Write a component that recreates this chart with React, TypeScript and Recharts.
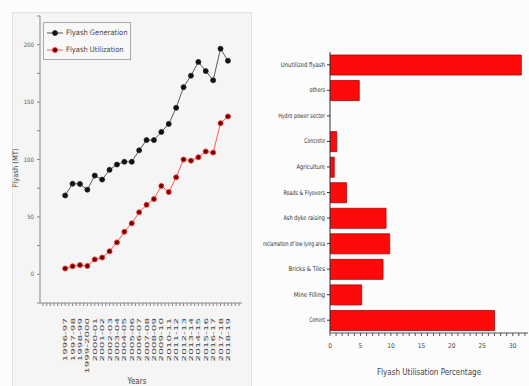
import React from 'react';
import { LineChart, Line, XAxis, YAxis, BarChart, Bar } from 'recharts';

const years = ['1996-97','1997-98','1998-99','1999-2000','2000-01','2001-02','2002-03','2003-04','2004-05','2005-06','2006-07','2007-08','2008-09','2009-10','2010-11','2011-12','2012-13','2013-14','2014-15','2015-16','2016-17','2017-18','2018-19'];
const generation = [68.7,78.9,78.7,73.7,86,82.5,91,95.6,98,98,108,116.9,116.9,124,131,145,163,173,185,177,169,196.5,186];
const utilization = [5,7,8,7.3,13,14.6,20,27.8,37,44.4,54,60.5,65.5,77,71.6,84.5,100,99,102,107,106,131.6,137.5];
const yTicks = [-25,0,25,50,75,100,125,150,175,200,225];

const sectors = ['Unutilized flyash','others','Hydro power sector','Concrete','Agriculture','Roads & Flyovers','Ash dyke raising','reclamation of low lying area','Bricks & Tiles','Mine Filling','Cement'];
const percentages = [31.4,4.8,0,1.1,0.7,2.7,9.2,9.8,8.7,5.2,27];
const pctTicks = [0,1,2,3,4,5,6,7,8,9,10,11,12,13,14,15,16,17,18,19,20,21,22,23,24,25,26,27,28,29,30,31,32];

const FONT = "'Liberation Sans Narrow', 'DejaVu Sans Condensed', 'Roboto Condensed', sans-serif";

const lineData = years.map((y, i) => ({ x: i, year: y, gen: generation[i], util: utilization[i] }));
const barData = sectors.map((s, i) => ({ name: s, value: percentages[i] }));

const xTicks: number[] = [];
for (let v = -3; v <= 23.5; v += 0.5) xTicks.push(v);

const YearTick = (props: any) => {
  const { x, y, payload } = props;
  const v = payload.value;
  if (!Number.isInteger(v) || v < 0 || v >= years.length) return <g />;
  const label = years[v];
  return (
    <text
      transform={`translate(${x},${y + 10}) rotate(-90)`}
      textAnchor="end"
      dominantBaseline="central"
      fontSize={5.5}
      fontFamily={FONT}
      fill="#444"
      textLength={label.length * 6.2}
      lengthAdjust="spacingAndGlyphs"
    >
      {label}
    </text>
  );
};

const SectorTick = (props: any) => {
  const { x, y, payload } = props;
  const label = String(payload.value);
  return (
    <text
      x={x}
      y={y}
      textAnchor="end"
      dominantBaseline="central"
      fontSize={6.5}
      fontFamily={FONT}
      fill="#333"
      textLength={Math.min(label.length * 2.6, 62)}
      lengthAdjust="spacingAndGlyphs"
    >
      {label}
    </text>
  );
};

const YLabel = () => (
  <text transform="translate(15,168) rotate(-90)" textAnchor="middle" dominantBaseline="central" fontSize={7.5} fontFamily={FONT} fill="#444">
    Flyash (MT)
  </text>
);

const legendItems = [
  { c: '#222', f: '#111', t: 'Flyash Generation' },
  { c: '#ff3030', f: '#6a0000', t: 'Flyash Utilization' },
];

export default function App() {
  return (
    <div style={{ position: 'absolute', left: 0, top: 0, width: 529, height: 386, background: '#fcfcfc', overflow: 'hidden' }}>
      <div style={{ position: 'absolute', left: 12, top: 12, width: 238, height: 380, background: '#f5f5f5', border: '1px solid #e2e2e2' }} />
      <div style={{ position: 'absolute', left: 0, top: 0 }}>
        <LineChart width={250} height={386} data={lineData} margin={{ top: 16, right: 8, bottom: 0, left: 0 }}>
          <XAxis
            dataKey="x"
            type="number"
            domain={[-3.4, 23.9]}
            ticks={xTicks}
            allowDataOverflow
            interval={0}
            height={83}
            tick={<YearTick />}
            tickSize={3}
            stroke="#888"
            label={{ value: 'Years', position: 'insideBottom', offset: 2, dx: -4, fontSize: 8, fontFamily: FONT, fill: '#444' }}
          />
          <XAxis
            xAxisId="top"
            orientation="top"
            type="number"
            domain={[0, 10]}
            ticks={[0,1,2,3,4,5,6,7,8,9,10]}
            allowDataOverflow
            height={0}
            tickSize={-3}
            tickFormatter={() => ''}
            stroke="#888"
          />
          <YAxis
            type="number"
            domain={[-25, 225]}
            ticks={yTicks}
            allowDataOverflow
            width={40}
            tickSize={3}
            tickMargin={3}
            stroke="#888"
            tick={{ fontSize: 6, fontFamily: FONT, fill: '#555' }}
            tickFormatter={(v: number) => (v % 50 === 0 && v >= 0 && v <= 200 ? String(v) : '')}
            label={{ value: 'Flyash (MT)', content: <YLabel /> }}
          />
          <YAxis
            yAxisId="right"
            orientation="right"
            type="number"
            domain={[-25, 225]}
            ticks={yTicks}
            allowDataOverflow
            width={0}
            tickSize={-3}
            tickFormatter={() => ''}
            stroke="#999"
          />
          <Line
            dataKey="gen"
            stroke="#333"
            strokeWidth={0.8}
            dot={{ r: 2.5, fill: '#111', stroke: '#222', strokeWidth: 0.8 }}
            isAnimationActive={false}
          />
          <Line
            dataKey="util"
            stroke="#ff3030"
            strokeWidth={0.8}
            dot={{ r: 2.5, fill: '#6a0000', stroke: '#ff3030', strokeWidth: 0.9 }}
            isAnimationActive={false}
          />
        </LineChart>
      </div>
      <div style={{ position: 'absolute', left: 43, top: 22, border: '1px solid #aaa', background: '#f8f8f8', padding: '1px 3px', fontFamily: FONT, fontSize: 7.5, color: '#444', lineHeight: '17px', whiteSpace: 'nowrap' }}>
        {legendItems.map((it) => (
          <div key={it.t} style={{ display: 'flex', alignItems: 'center' }}>
            <svg width={16} height={8} style={{ marginRight: 3 }}>
              <line x1={0} y1={4} x2={16} y2={4} stroke={it.c} strokeWidth={0.8} />
              <circle cx={8} cy={4} r={2.5} fill={it.f} stroke={it.c} strokeWidth={0.8} />
            </svg>
            <span>{it.t}</span>
          </div>
        ))}
      </div>
      <div style={{ position: 'absolute', left: 260, top: 0 }}>
        <BarChart width={269} height={386} data={barData} layout="vertical" margin={{ top: 52, right: 1, bottom: 0, left: 0 }} barCategoryGap={5}>
          <XAxis
            type="number"
            domain={[0, 32.5]}
            ticks={pctTicks}
            allowDataOverflow
            interval={0}
            height={53}
            tickSize={3}
            tickMargin={7}
            stroke="#555"
            tick={{ fontSize: 6.5, fontFamily: FONT, fill: '#444' }}
            tickFormatter={(v: number) => (v % 5 === 0 ? String(v) : '')}
            label={{ value: 'Flyash Utilisation Percentage', position: 'insideBottom', offset: 11, fontSize: 8, fontFamily: FONT, fill: '#444' }}
          />
          <YAxis
            type="category"
            dataKey="name"
            width={70}
            interval={0}
            tickSize={3}
            tickMargin={2}
            stroke="#333"
            tick={<SectorTick />}
          />
          <Bar dataKey="value" fill="#ff0a0a" stroke="#b00000" strokeWidth={0.8} barSize={20} isAnimationActive={false} />
        </BarChart>
      </div>
    </div>
  );
}
